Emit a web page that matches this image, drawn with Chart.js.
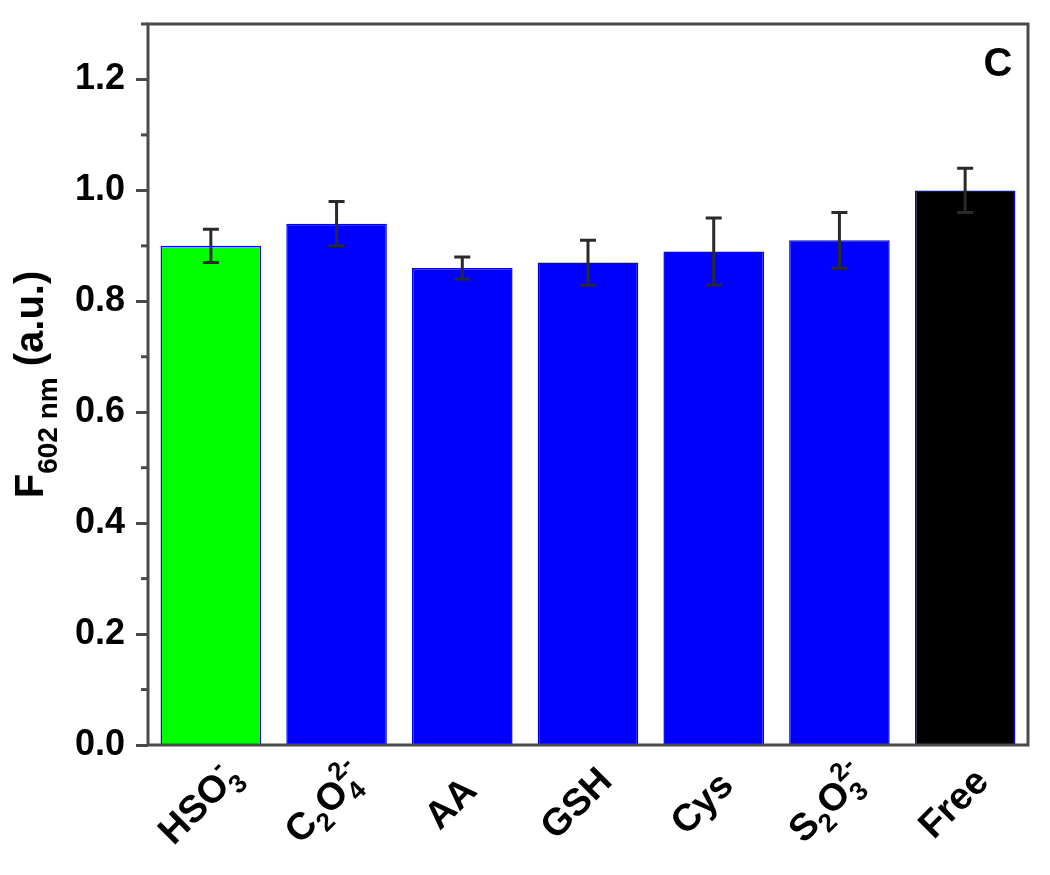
<!DOCTYPE html>
<html>
<head>
<meta charset="utf-8">
<script src="https://cdn.jsdelivr.net/npm/chart.js@4.4.0/dist/chart.umd.min.js"></script>
<style>
  body { margin: 0; background: #fff; }
  #chart { display: block; }
</style>
</head>
<body>
<canvas id="chart" width="1050" height="875"></canvas>
<script>
// Chart data
const categories = ['HSO3-', 'C2O4 2-', 'AA', 'GSH', 'Cys', 'S2O3 2-', 'Free'];
const values = [0.90, 0.94, 0.86, 0.87, 0.89, 0.91, 1.00];
const errors = [0.03, 0.04, 0.02, 0.04, 0.06, 0.05, 0.04];
const barColors = ['#00ff00', '#0000ff', '#0000ff', '#0000ff', '#0000ff', '#0000ff', '#000000'];
const yTicks = [0.0, 0.2, 0.4, 0.6, 0.8, 1.0, 1.2];

// Rich text pieces for the x labels (sub / sup)
const labelParts = [
    [['HSO'], ['3', 'sub'], ['-', 'sup']],
    [['C'], ['2', 'sub'], ['O'], ['4', 'sub'], ['2-', 'sup']],
    [['AA']],
    [['GSH']],
    [['Cys']],
    [['S'], ['2', 'sub'], ['O'], ['3', 'sub'], ['2-', 'sup']],
    [['Free']]
];

const FONT = "'Liberation Sans', Arial, sans-serif";
const AXIS_COLOR = '#4a4a4a';

// measure / draw a list of [text, kind] pieces; sub and sup after each other are stacked
function richText(ctx, parts, big, small, draw) {
    let x = 0;
    let lastSubStart = null, lastSubW = 0;
    parts.forEach(([t, kind]) => {
        const size = kind ? small : big;
        ctx.font = 'bold ' + size + 'px ' + FONT;
        const w = ctx.measureText(t).width;
        let startX = x;
        if (kind === 'sup' && lastSubStart !== null) {
            startX = lastSubStart;
        }
        if (draw) {
            let dy = 0;
            if (kind === 'sub') dy = big * 0.26;
            if (kind === 'sup') dy = -big * 0.47;
            ctx.fillText(t, draw.x0 + startX, dy);
        }
        if (kind === 'sub') {
            lastSubStart = x; lastSubW = w;
            x += w;
        } else if (kind === 'sup' && lastSubStart !== null) {
            x = lastSubStart + Math.max(w, lastSubW);
            lastSubStart = null;
        } else {
            lastSubStart = null;
            x += w;
        }
    });
    return x;
}

const extrasPlugin = {
    id: 'extras',
    afterDatasetsDraw(chart) {
        const ctx = chart.ctx;
        const xs = chart.scales.x;
        const ys = chart.scales.y;
        const area = chart.chartArea;

        // error bars
        ctx.save();
        ctx.strokeStyle = '#2a2a2a';
        ctx.lineWidth = 3;
        values.forEach((v, i) => {
            const x = xs.getPixelForValue(i);
            const top = ys.getPixelForValue(v + errors[i]);
            const bot = ys.getPixelForValue(v - errors[i]);
            ctx.beginPath();
            ctx.moveTo(x, top); ctx.lineTo(x, bot);
            ctx.moveTo(x - 8, top); ctx.lineTo(x + 8, top);
            ctx.moveTo(x - 8, bot); ctx.lineTo(x + 8, bot);
            ctx.stroke();
        });
        ctx.restore();

        // frame
        ctx.save();
        ctx.strokeStyle = AXIS_COLOR;
        ctx.lineWidth = 3;
        ctx.strokeRect(area.left, area.top, area.right - area.left, area.bottom - area.top);

        // minor ticks
        for (let k = 0; k < yTicks.length; k++) {
            const next = k + 1 < yTicks.length ? yTicks[k + 1] : yTicks[k] + 0.2;
            const mid = (yTicks[k] + next) / 2;
            if (mid > ys.max) continue;
            const y = ys.getPixelForValue(mid);
            ctx.beginPath();
            ctx.moveTo(area.left - 7, y); ctx.lineTo(area.left, y);
            ctx.stroke();
        }
        ctx.restore();

        // x labels, rotated 45 degrees and centred under each bar
        ctx.save();
        ctx.fillStyle = '#000';
        ctx.textBaseline = 'alphabetic';
        labelParts.forEach((parts, i) => {
            const w = richText(ctx, parts, 38, 26, null);
            const cx = xs.getPixelForValue(i) - 13;
            const cy = 802;
            ctx.save();
            ctx.translate(cx, cy);
            ctx.rotate(-Math.PI / 4);
            ctx.translate(0, 14);
            richText(ctx, parts, 38, 26, { x0: -w / 2 });
            ctx.restore();
        });
        ctx.restore();

        // y title: F subscript 602 nm (a.u.)
        ctx.save();
        ctx.fillStyle = '#000';
        const titleParts = [['F'], ['602 nm', 'sub'], [' (a.u.)']];
        const tw = richText(ctx, titleParts, 40, 28, null);
        ctx.translate(43, (area.top + area.bottom) / 2);
        ctx.rotate(-Math.PI / 2);
        let tx = -tw / 2;
        ctx.font = 'bold 40px ' + FONT;
        ctx.fillText('F', tx, 0);
        tx += ctx.measureText('F').width;
        ctx.font = 'bold 28px ' + FONT;
        ctx.fillText('602 nm', tx, 14);
        tx += ctx.measureText('602 nm').width;
        ctx.font = 'bold 40px ' + FONT;
        ctx.fillText(' (a.u.)', tx, 0);
        ctx.restore();

        // panel letter
        ctx.save();
        ctx.fillStyle = '#000';
        ctx.font = 'bold 40px ' + FONT;
        ctx.textAlign = 'center';
        ctx.fillText('C', 998, 76);
        ctx.restore();
    }
};

const ctx = document.getElementById('chart').getContext('2d');
const chart = new Chart(ctx, {
    type: 'bar',
    data: {
        labels: categories,
        datasets: [{
            data: values,
            backgroundColor: barColors,
            borderColor: '#0000ff',
            borderWidth: 1.5,
            barPercentage: 0.8,
            categoryPercentage: 1.0
        }]
    },
    options: {
        responsive: false,
        animation: false,
        devicePixelRatio: 1,
        layout: { padding: { top: 24, right: 22, left: 0, bottom: 0 } },
        plugins: {
            legend: { display: false },
            tooltip: { enabled: false }
        },
        scales: {
            x: {
                grid: { display: false },
                border: { display: false },
                ticks: { display: false },
                afterFit: function (scale) {
                    scale.height = 130;
                    scale.paddingLeft = 0;
                    scale.paddingRight = 0;
                }
            },
            y: {
                min: 0,
                max: 1.3,
                afterBuildTicks: function (scale) {
                    scale.ticks = yTicks.map(v => ({ value: v }));
                },
                grid: {
                    drawOnChartArea: false,
                    drawTicks: true,
                    tickLength: 12,
                    tickWidth: 3,
                    tickColor: AXIS_COLOR
                },
                border: { display: false },
                ticks: {
                    color: '#000',
                    padding: 11,
                    font: { family: FONT, size: 36, weight: 'bold' },
                    callback: v => v.toFixed(1)
                },
                afterFit: function (scale) {
                    scale.width = 148;
                    scale.paddingTop = 0;
                    scale.paddingBottom = 0;
                }
            }
        }
    },
    plugins: [extrasPlugin]
});
</script>
</body>
</html>
